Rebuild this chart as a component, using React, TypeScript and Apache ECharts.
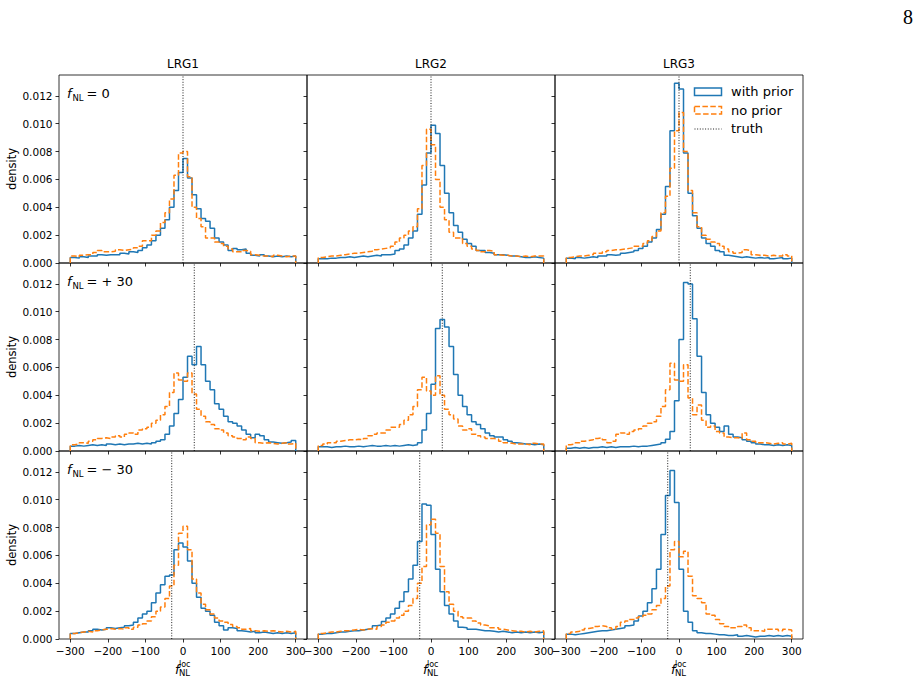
import React, { useEffect, useRef } from 'react';
import * as echarts from 'echarts';

// ---------- data (histogram densities, in units of 1e-3) ----------
const BIN_MIN = -300;
const BIN_MAX = 300;
const columns = ['LRG1', 'LRG2', 'LRG3'];
const truthValues = [0, 30, -30];
const rowLabelTexts = ['= 0', '= + 30', '= \u2212 30'];
const xTicks = [-300, -200, -100, 0, 100, 200, 300];
const yTicks = [0, 0.002, 0.004, 0.006, 0.008, 0.01, 0.012];
const Y_MAX = 0.0135;
const X_MIN = -330;
const X_MAX = 330;

// fNL = 0
const withPrior_f0_LRG1 = [0.4,0.35,0.45,0.4,0.5, 0.5,0.6,0.55,0.6,0.6, 0.6,0.7,0.65,0.8,0.75, 0.9,1.1,1.3,1.6,2.0, 2.5,3.1,4.0,5.2,6.5, 7.5,6.1,4.9,3.9,3.2, 3.0,2.5,1.8,1.5,1.3, 0.9,1.05,0.95,1.0,0.7, 0.55,0.5,0.6,0.5,0.45, 0.5,0.45,0.5,0.45,0.5];
const noPrior_f0_LRG1 = [0.5,0.45,0.55,0.6,0.6, 0.75,0.9,0.8,0.8,0.85, 0.95,0.9,0.95,1.0,1.1, 1.2,1.6,1.6,2.0,2.3, 2.9,3.6,4.6,6.3,7.9, 8.0,6.2,4.0,3.2,2.6, 1.8,1.8,1.5,1.4,1.2, 1.0,0.8,0.8,0.9,0.85, 0.6,0.55,0.5,0.5,0.45, 0.55,0.5,0.45,0.5,0.5];
const withPrior_f0_LRG2 = [0.3,0.3,0.35,0.35,0.4, 0.4,0.45,0.4,0.45,0.5, 0.45,0.5,0.55,0.5,0.6, 0.6,0.65,0.9,1.0,1.3, 1.8,2.3,3.5,5.6,7.9, 9.9,9.3,7.0,5.0,3.6, 2.7,2.2,1.7,1.4,1.2, 0.9,0.9,0.75,0.7,0.6, 0.6,0.55,0.5,0.5,0.45, 0.4,0.4,0.45,0.4,0.35];
const noPrior_f0_LRG2 = [0.4,0.45,0.5,0.5,0.55, 0.6,0.65,0.7,0.7,0.75, 0.8,0.85,0.95,1.0,1.05, 1.1,1.2,1.5,1.8,2.0, 2.3,2.6,3.9,7.0,9.6, 8.5,6.0,4.0,3.1,2.2, 1.8,1.8,1.4,1.2,1.0, 0.9,0.8,0.9,0.85,0.6, 0.55,0.55,0.5,0.5,0.45, 0.5,0.45,0.5,0.5,0.5];
const withPrior_f0_LRG3 = [0.35,0.3,0.4,0.35,0.4, 0.45,0.4,0.5,0.5,0.6, 0.55,0.6,0.7,0.75,0.8, 0.9,1.05,1.2,1.5,1.8, 2.4,3.5,5.5,9.5,12.9, 12.5,7.9,5.0,3.4,2.5, 1.8,1.4,1.2,0.9,0.8, 0.55,0.5,0.45,0.4,0.45, 0.4,0.35,0.4,0.35,0.4, 0.3,0.35,0.4,0.3,0.35];
const noPrior_f0_LRG3 = [0.4,0.45,0.5,0.5,0.55, 0.6,0.7,0.7,0.8,0.9, 0.95,0.95,1.0,1.05,1.1, 1.2,1.2,1.4,1.6,1.9, 2.3,3.6,4.8,6.8,9.5, 10.8,8.0,5.2,3.6,2.6, 2.0,1.7,1.5,1.4,1.2, 1.0,0.8,0.7,0.75,0.95, 0.9,0.6,0.55,0.55,0.5, 0.55,0.5,0.5,0.6,0.5];

// fNL = +30
const withPrior_p30_LRG1 = [0.35,0.4,0.35,0.4,0.45, 0.4,0.45,0.4,0.5,0.45, 0.5,0.45,0.5,0.5,0.55, 0.5,0.55,0.5,0.6,0.7, 0.8,1.2,1.8,2.7,3.7, 5.3,6.8,6.2,7.5,6.2, 5.0,4.4,3.4,3.0,2.5, 2.1,2.0,1.8,1.5,1.2, 0.95,1.2,1.1,0.8,0.65, 0.6,0.55,0.6,0.65,0.75];
const noPrior_p30_LRG1 = [0.45,0.5,0.6,0.55,0.7, 0.8,0.9,0.95,0.9,1.0, 1.1,1.0,1.2,1.3,1.2, 1.5,1.6,1.7,2.0,2.2, 2.6,3.2,4.2,5.6,5.1, 5.0,5.6,4.1,3.0,2.5, 2.1,1.9,1.6,1.5,1.3, 1.1,1.0,0.9,0.8,1.0, 0.9,0.6,0.55,0.6,0.55, 0.5,0.55,0.6,0.5,0.55];
const withPrior_p30_LRG2 = [0.3,0.3,0.25,0.3,0.3, 0.35,0.3,0.3,0.35,0.3, 0.35,0.4,0.35,0.35,0.4, 0.35,0.4,0.35,0.4,0.45, 0.4,0.45,0.6,1.5,2.7, 4.8,8.8,9.45,8.9,7.5, 5.5,4.0,3.2,2.6,2.1, 1.9,1.6,1.3,1.1,1.0, 1.0,0.8,0.7,0.6,0.55, 0.5,0.5,0.45,0.5,0.45];
const noPrior_p30_LRG2 = [0.4,0.5,0.6,0.6,0.7, 0.75,0.8,0.8,0.85,0.8, 0.9,1.1,1.2,1.3,1.3, 1.5,1.7,1.7,1.9,2.2, 2.6,3.2,4.4,5.3,4.3, 4.0,5.4,4.0,3.0,2.6, 2.3,1.8,1.5,1.6,1.2, 1.1,1.0,0.9,0.9,0.85, 0.7,0.6,0.55,0.5,0.5, 0.5,0.45,0.55,0.5,0.5];
const withPrior_p30_LRG3 = [0.2,0.25,0.2,0.25,0.2, 0.25,0.25,0.3,0.25,0.3, 0.25,0.3,0.3,0.3,0.35, 0.3,0.35,0.35,0.4,0.45, 0.5,0.6,0.85,1.4,3.6, 8.0,12.1,12.0,9.5,6.8, 4.2,2.6,2.0,1.7,1.4, 1.8,1.2,1.0,0.95,0.8, 0.7,0.6,0.5,0.45,0.45, 0.4,0.45,0.4,0.45,0.4];
const noPrior_p30_LRG3 = [0.45,0.5,0.6,0.7,0.75, 0.8,0.9,0.95,0.8,0.6, 0.7,1.2,1.3,1.2,1.4, 1.5,1.6,1.8,2.0,2.1, 2.5,3.2,4.4,6.3,5.1, 5.0,6.2,3.8,2.6,3.3, 2.2,1.7,1.8,1.4,1.3, 1.0,0.95,0.95,0.9,1.3, 0.8,0.7,0.6,0.6,0.55, 0.5,0.55,0.6,0.5,0.55];

// fNL = -30
const withPrior_m30_LRG1 = [0.4,0.45,0.5,0.5,0.6, 0.7,0.65,0.7,0.8,0.75, 0.8,0.85,0.95,1.0,1.2, 1.5,1.8,2.0,2.6,3.3, 3.9,4.5,4.6,6.4,6.9, 6.6,5.6,4.0,3.0,2.2, 2.0,1.7,1.2,0.95,0.65, 0.8,0.75,0.6,0.55,0.5, 0.55,0.45,0.5,0.45,0.4, 0.45,0.4,0.45,0.4,0.45];
const noPrior_m30_LRG1 = [0.4,0.45,0.5,0.55,0.5, 0.6,0.65,0.7,0.75,0.7, 0.75,0.7,0.8,0.7,0.85, 1.0,1.1,1.3,1.6,2.0, 2.3,2.9,3.8,5.3,7.6, 8.1,6.4,4.3,3.3,2.5, 2.1,1.8,1.5,1.3,1.2, 1.05,0.9,0.8,0.7,0.75, 0.6,0.55,0.6,0.55,0.6, 0.55,0.5,0.55,0.5,0.55];
const withPrior_m30_LRG2 = [0.35,0.4,0.4,0.45,0.5, 0.5,0.55,0.6,0.6,0.65, 0.7,0.75,0.95,1.0,1.25, 1.5,1.8,2.2,2.7,3.4, 4.3,5.3,7.0,9.7,9.6, 7.5,5.0,3.4,2.4,1.8, 1.3,0.85,0.8,0.7,0.7, 0.65,0.6,0.6,0.55,0.5, 0.55,0.5,0.45,0.5,0.45, 0.5,0.45,0.5,0.45,0.5];
const noPrior_m30_LRG2 = [0.4,0.45,0.5,0.5,0.55, 0.6,0.6,0.65,0.7,0.65, 0.7,0.75,0.7,0.9,1.0, 1.2,1.3,1.5,1.7,2.0, 2.4,2.9,4.0,5.2,8.2, 8.6,7.6,5.2,3.4,2.5, 2.0,1.6,1.5,1.5,1.3, 1.15,1.0,0.95,0.8,0.8, 0.7,0.65,0.6,0.55,0.55, 0.5,0.55,0.5,0.55,0.6];
const withPrior_m30_LRG3 = [0.35,0.3,0.35,0.4,0.45, 0.5,0.55,0.6,0.6,0.65, 0.7,0.75,0.8,0.95,1.0, 1.3,1.65,2.0,2.6,3.6, 5.0,7.5,10.3,12.1,9.8, 5.0,2.0,1.2,0.6,0.45, 0.4,0.4,0.35,0.3,0.3, 0.25,0.25,0.3,0.2,0.25, 0.2,0.15,0.2,0.2,0.25, 0.2,0.25,0.2,0.25,0.2];
const noPrior_m30_LRG3 = [0.4,0.5,0.55,0.65,0.75, 0.8,0.9,0.95,0.9,0.8, 0.7,0.9,1.2,1.3,1.4, 1.5,1.6,1.7,1.8,2.1, 2.4,2.9,3.8,6.4,7.0, 5.9,6.3,4.5,3.1,2.9, 2.6,1.8,1.7,1.4,1.1, 0.9,0.8,0.8,0.9,1.0, 0.8,0.6,0.6,0.55,0.7, 0.7,0.7,0.6,0.7,0.65];

const withPrior = [
  [withPrior_f0_LRG1, withPrior_f0_LRG2, withPrior_f0_LRG3],
  [withPrior_p30_LRG1, withPrior_p30_LRG2, withPrior_p30_LRG3],
  [withPrior_m30_LRG1, withPrior_m30_LRG2, withPrior_m30_LRG3],
];
const noPrior = [
  [noPrior_f0_LRG1, noPrior_f0_LRG2, noPrior_f0_LRG3],
  [noPrior_p30_LRG1, noPrior_p30_LRG2, noPrior_p30_LRG3],
  [noPrior_m30_LRG1, noPrior_m30_LRG2, noPrior_m30_LRG3],
];

// ---------- layout ----------
const FONT = "'DejaVu Sans', sans-serif";
const BLUE = '#1f77b4';
const ORANGE = '#ff7f0e';
const colLeft = [59, 307, 555];
const rowTop = [75, 263, 451];
const PW = 248;
const PH = 188;

function stepPoints(vals: number[]) {
  const w = (BIN_MAX - BIN_MIN) / vals.length;
  const pts: number[][] = [[BIN_MIN, 0]];
  vals.forEach((v, k) => {
    const a = BIN_MIN + k * w;
    pts.push([a, v * 1e-3], [a + w, v * 1e-3]);
  });
  pts.push([BIN_MAX, 0]);
  return pts;
}

const fmtX = (v: number) => (v < 0 ? '\u2212' + Math.abs(v) : String(v));

function buildOption() {
  const grid: any[] = [];
  const xAxis: any[] = [];
  const yAxis: any[] = [];
  const series: any[] = [];
  const graphic: any[] = [];
  for (let r = 0; r < 3; r++) {
    for (let c = 0; c < 3; c++) {
      const i = r * 3 + c;
      grid.push({
        left: colLeft[c], top: rowTop[r], width: PW, height: PH,
        show: true, borderColor: '#000', borderWidth: 0.8, backgroundColor: 'transparent',
        containLabel: false,
      });
      xAxis.push({
        type: 'value', gridIndex: i, min: X_MIN, max: X_MAX, position: 'bottom',
        axisLine: { show: false, onZero: false },
        splitLine: { show: false },
        axisTick: { show: true, length: 3.5, inside: false, customValues: xTicks, lineStyle: { color: '#000', width: 0.8 } },
        axisLabel: {
          show: r === 2, customValues: xTicks, formatter: fmtX, color: '#000',
          fontFamily: FONT, fontSize: 10.5, margin: 6,
        },
      });
      yAxis.push({
        type: 'value', gridIndex: i, min: 0, max: Y_MAX, position: 'left',
        axisLine: { show: false, onZero: false },
        splitLine: { show: false },
        axisTick: { show: true, length: 3.5, inside: false, customValues: yTicks, lineStyle: { color: '#000', width: 0.8 } },
        axisLabel: {
          show: c === 0, customValues: yTicks, formatter: (v: number) => v.toFixed(3), color: '#000',
          fontFamily: FONT, fontSize: 10.5, margin: 6.5,
        },
      });
      series.push({
        type: 'line', xAxisIndex: i, yAxisIndex: i, data: stepPoints(withPrior[r][c]),
        symbol: 'none', showSymbol: false, silent: true,
        lineStyle: { color: BLUE, width: 1.5 }, z: 2,
      });
      series.push({
        type: 'line', xAxisIndex: i, yAxisIndex: i, data: stepPoints(noPrior[r][c]),
        symbol: 'none', showSymbol: false, silent: true,
        lineStyle: { color: ORANGE, width: 1.5, type: [5.5, 2.4] }, z: 3,
      });
      series.push({
        type: 'line', xAxisIndex: i, yAxisIndex: i,
        data: [[truthValues[r], 0], [truthValues[r], Y_MAX]],
        symbol: 'none', showSymbol: false, silent: true,
        lineStyle: { color: '#000', width: 0.9, type: [1, 1.65] }, z: 4,
      });
    }
  }

  // column titles
  columns.forEach((name, c) => {
    graphic.push({
      type: 'text', x: colLeft[c] + PW / 2, y: 64,
      style: { text: name, fontFamily: FONT, fontSize: 12, fill: '#000', align: 'center', verticalAlign: 'middle' },
    });
  });

  // y axis labels and row labels
  for (let r = 0; r < 3; r++) {
    graphic.push({
      type: 'text', x: 12, y: rowTop[r] + PH / 2, rotation: Math.PI / 2,
      style: { text: 'density', fontFamily: FONT, fontSize: 11.5, fill: '#000', align: 'center', verticalAlign: 'middle' },
    });
    const ty = rowTop[r] + 18;
    graphic.push({
      type: 'text', x: 67, y: ty,
      style: { text: 'f', fontFamily: FONT, fontStyle: 'italic', fontSize: 13, fill: '#000', align: 'left', verticalAlign: 'middle' },
    });
    graphic.push({
      type: 'text', x: 72.5, y: ty + 4.5,
      style: { text: 'NL', fontFamily: FONT, fontSize: 8.5, fill: '#000', align: 'left', verticalAlign: 'middle' },
    });
    graphic.push({
      type: 'text', x: 86.5, y: ty,
      style: { text: rowLabelTexts[r], fontFamily: FONT, fontSize: 13, fill: '#000', align: 'left', verticalAlign: 'middle' },
    });
  }

  // x axis labels f_NL^loc
  for (let c = 0; c < 3; c++) {
    const cx = colLeft[c] + PW / 2;
    graphic.push({
      type: 'text', x: cx - 8, y: 669.5,
      style: { text: 'f', fontFamily: FONT, fontStyle: 'italic', fontSize: 12.5, fill: '#000', align: 'left', verticalAlign: 'middle' },
    });
    graphic.push({
      type: 'text', x: cx - 4, y: 664.5,
      style: { text: 'loc', fontFamily: FONT, fontSize: 8, fill: '#000', align: 'left', verticalAlign: 'middle' },
    });
    graphic.push({
      type: 'text', x: cx - 4, y: 672.5,
      style: { text: 'NL', fontFamily: FONT, fontSize: 8.5, fill: '#000', align: 'left', verticalAlign: 'middle' },
    });
  }

  // legend (top-right panel)
  graphic.push({
    type: 'rect', shape: { x: 694.5, y: 88, width: 27, height: 7.5 },
    style: { fill: 'none', stroke: BLUE, lineWidth: 1.5 },
  });
  graphic.push({
    type: 'rect', shape: { x: 694.5, y: 106.5, width: 27, height: 7.5 },
    style: { fill: 'none', stroke: ORANGE, lineWidth: 1.5, lineDash: [5.5, 2.4] },
  });
  graphic.push({
    type: 'line', shape: { x1: 694.5, y1: 129, x2: 721.5, y2: 129 },
    style: { stroke: '#000', lineWidth: 0.9, lineDash: [1, 1.65] },
  });
  const legendTexts = ['with prior', 'no prior', 'truth'];
  const legendY = [91.5, 110, 128.5];
  legendTexts.forEach((t, k) => {
    graphic.push({
      type: 'text', x: 731, y: legendY[k],
      style: { text: t, fontFamily: FONT, fontSize: 13, fill: '#000', align: 'left', verticalAlign: 'middle' },
    });
  });

  // page number
  graphic.push({
    type: 'text', x: 908, y: 17,
    style: { text: '8', fontFamily: "'Liberation Serif', 'DejaVu Serif', serif", fontSize: 20, fill: '#000', align: 'center', verticalAlign: 'middle' },
  });

  return {
    animation: false,
    backgroundColor: '#fff',
    grid, xAxis, yAxis, series, graphic,
  };
}

export default function App() {
  const ref = useRef<HTMLDivElement>(null);
  useEffect(() => {
    const chart = echarts.init(ref.current as HTMLDivElement, undefined, { renderer: 'svg' });
    chart.setOption(buildOption() as any);
    return () => chart.dispose();
  }, []);
  return (
    <div
      ref={ref}
      style={{ position: 'fixed', left: 0, top: 0, width: 919, height: 682, background: '#fff' }}
    />
  );
}
